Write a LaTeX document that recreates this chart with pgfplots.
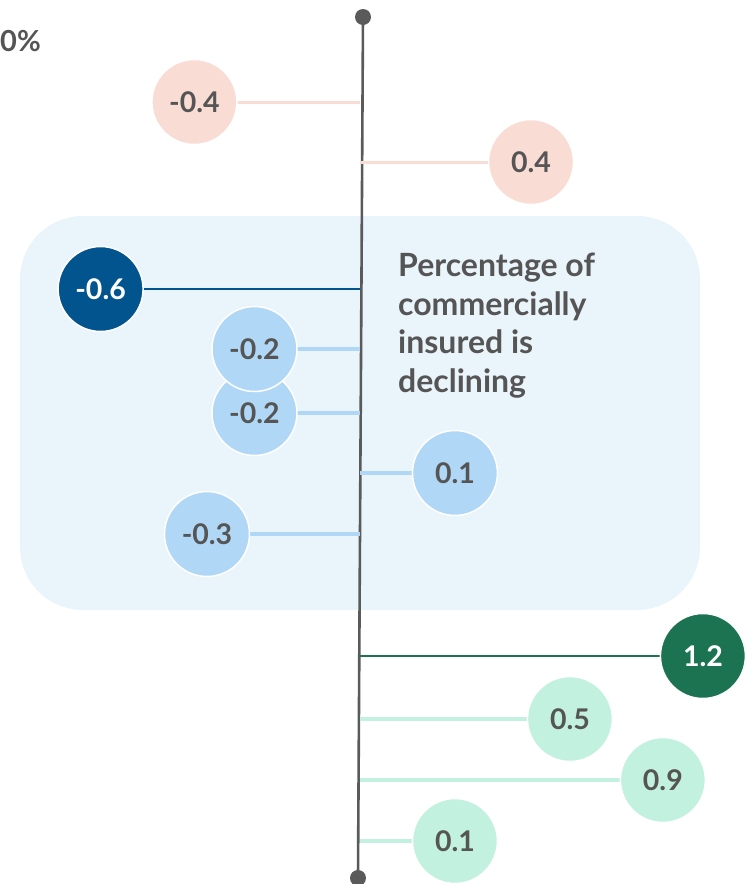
\documentclass[border=0pt]{standalone}
\usepackage{pgfplots}
\pgfplotsset{compat=1.18}
\usepackage{pgfplotstable}
\usepackage{fontspec}
\setmainfont{Lato}

\definecolor{txtgray}{HTML}{555555}
\definecolor{axgray}{HTML}{5A5A5A}
\definecolor{bgblue}{HTML}{EAF4FB}
\definecolor{pinkc}{HTML}{F9DCD4}
\definecolor{dblue}{HTML}{02548F}
\definecolor{lblue}{HTML}{B0D8F6}
\definecolor{dgreen}{HTML}{1B7352}
\definecolor{lgreen}{HTML}{C3F1E0}

% pos = horizontal position of the bubble, y = row, lab = printed value
\pgfplotstableread{
pos    y   lab
-0.579 102 -0.4
0.598  162 0.4
}\pinkrows
\pgfplotstableread{
pos    y   lab
-0.907 289 -0.6
}\dbluerows
\pgfplotstableread{
pos    y   lab
-0.535 534 -0.3
0.332  473 0.1
-0.369 413 -0.2
-0.369 349 -0.2
}\lbluerows
\pgfplotstableread{
pos    y   lab
1.199  656 1.2
}\dgreenrows
\pgfplotstableread{
pos    y   lab
0.734  719 0.5
1.059  780 0.9
0.332  841 0.1
}\lgreenrows

\begin{document}
\begin{tikzpicture}
\begin{axis}[
    scale only axis, width=755pt, height=884pt,
    xmin=-1.2587, xmax=1.3811, ymin=0, ymax=884, y dir=reverse,
    hide axis, clip=false,
    xcomb, mark=*, mark size=42.5pt,
    nodes near coords, point meta=explicit symbolic,
    nodes near coords align=center,
    every node near coord/.append style={font=\fontsize{28.5}{32}\selectfont\bfseries,
        text=txtgray, inner sep=0pt},
  ]
  \fill[bgblue, rounded corners=63pt] (axis cs:-1.1888,216) rectangle (axis cs:1.1888,610);
  \draw[axgray, line width=2.6pt] (axis cs:0.0105,17) -- (axis cs:-0.007,878);
  \fill[axgray] (axis cs:0.0105,17) circle[radius=8pt];
  \fill[axgray] (axis cs:-0.007,878) circle[radius=8pt];

  \addplot[draw=pinkc, line width=3pt,
    mark options={fill=pinkc, draw=white, line width=1.5pt}]
    table[x=pos, y=y, meta=lab] {\pinkrows};
  \addplot[draw=dblue, line width=2.6pt,
    mark options={fill=dblue, draw=white, line width=1.5pt},
    every node near coord/.append style={text=white}]
    table[x=pos, y=y, meta=lab] {\dbluerows};
  \addplot[draw=lblue, line width=3.3pt,
    mark options={fill=lblue, draw=white, line width=1.5pt}]
    table[x=pos, y=y, meta=lab] {\lbluerows};
  \addplot[draw=dgreen, line width=2.6pt,
    mark options={fill=dgreen, draw=white, line width=1.5pt},
    every node near coord/.append style={text=white}]
    table[x=pos, y=y, meta=lab] {\dgreenrows};
  \addplot[draw=lgreen, line width=3.3pt,
    mark options={fill=lgreen, draw=white, line width=1.5pt}]
    table[x=pos, y=y, meta=lab] {\lgreenrows};

  \node[anchor=base west, inner sep=0pt, text=txtgray,
    font=\fontsize{29}{34}\selectfont\bfseries] at (axis cs:-1.2587,51) {0\%};
  \node[anchor=north west, align=left, inner sep=0pt, text=txtgray,
    font=\fontsize{32}{38.5}\selectfont\bfseries] at (axis cs:0.1329,253)
    {Percentage of\\commercially\\insured is\\declining};
\end{axis}
\pgfresetboundingbox
\path[use as bounding box] (current axis.south west) rectangle (current axis.north east);
\end{tikzpicture}
\end{document}
